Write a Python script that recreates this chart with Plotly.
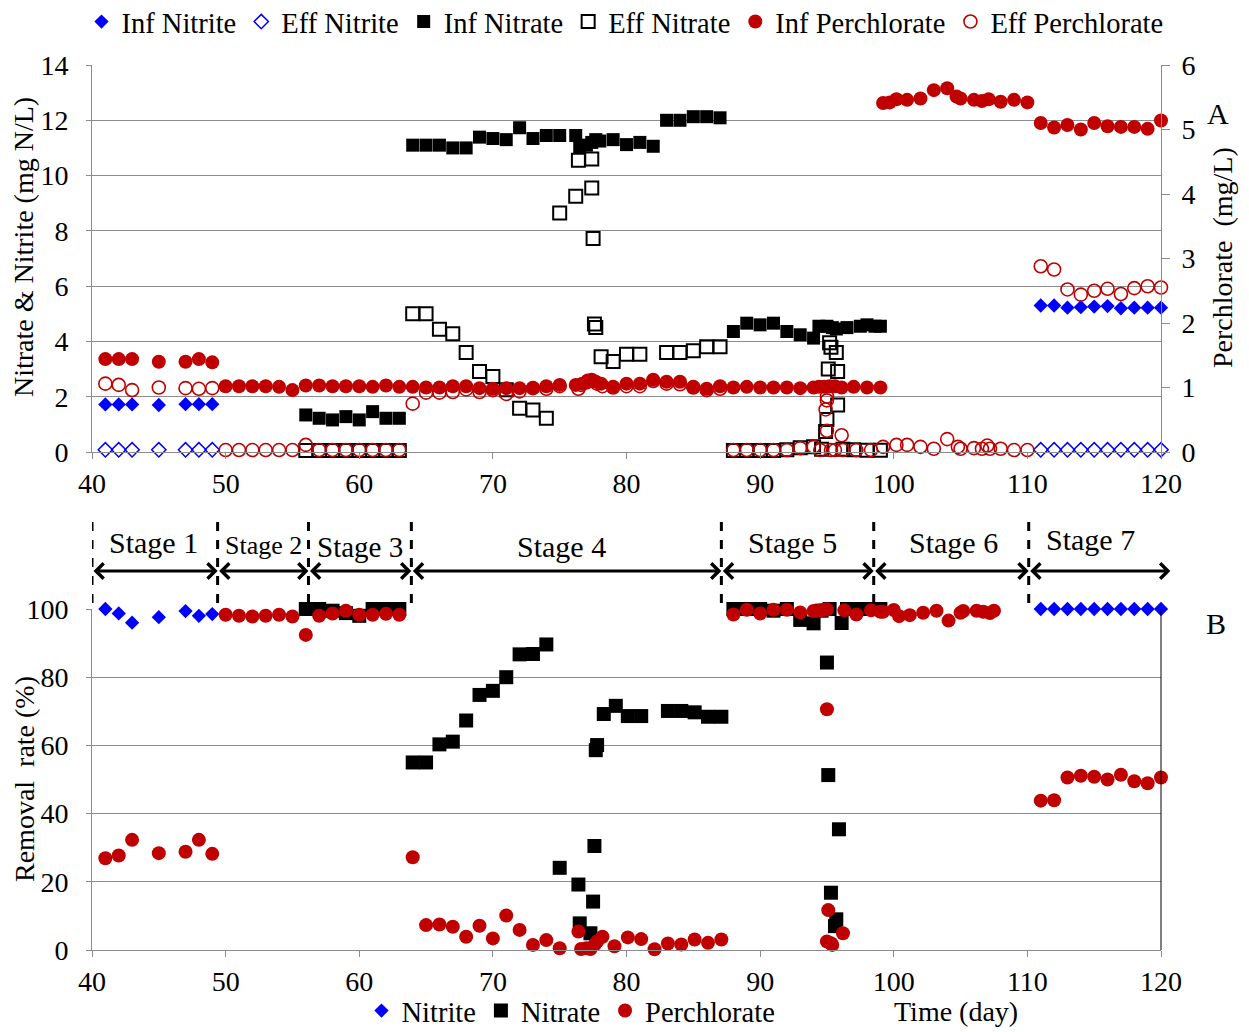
import plotly.graph_objects as go

# The page body adds an 8 px margin, so the figure is sized to fit and
# reference pixel positions are shifted by that offset.
OFF = 8
W, H = 1241, 1024
FONT = "Liberation Serif, Times New Roman, serif"
BLUE = "#0000FF"
RED = "#C00000"
BLACK = "#000000"
GRID = "#8C8C8C"

# ---------------- Panel A data (left axis: mg N/L) ----------------
inf_nitrite_day = [41, 42, 43, 45, 47, 48, 49, 111, 112, 113, 114, 115, 116, 117, 118, 119, 120]
inf_nitrite = [1.72, 1.72, 1.72, 1.70, 1.73, 1.73, 1.73, 5.30, 5.30, 5.22, 5.24, 5.26, 5.28, 5.20, 5.22, 5.22, 5.22]
eff_nitrite_day = [41, 42, 43, 45, 47, 48, 49, 111, 112, 113, 114, 115, 116, 117, 118, 119, 120]
eff_nitrite = [0.08, 0.08, 0.08, 0.08, 0.08, 0.08, 0.08, 0.08, 0.08, 0.08, 0.08, 0.08, 0.08, 0.08, 0.08, 0.08, 0.08]

inf_nitrate_day = [56, 57, 58, 59, 60, 61, 62, 63,
                   64, 65, 66, 67, 68, 69, 70, 71, 72, 73, 74, 75, 76.2, 76.5, 77.0, 77.4, 77.7,
                   78, 79, 80, 81, 82, 83, 84, 85, 86, 87,
                   88, 89, 90, 91, 92, 93, 94, 94.4, 95, 95.4, 95.7, 96.5, 97.5, 98, 98.6, 99]
inf_nitrate = [1.34, 1.22, 1.16, 1.28, 1.16, 1.46, 1.22, 1.22,
               11.10, 11.10, 11.10, 11.00, 11.00, 11.39, 11.34, 11.30, 11.73, 11.34, 11.45, 11.45, 11.45, 11.05, 11.10, 11.20, 11.30,
               11.25, 11.30, 11.12, 11.20, 11.06, 12.00, 12.00, 12.13, 12.13, 12.09,
               4.36, 4.66, 4.60, 4.66, 4.36, 4.24, 4.12, 4.55, 4.55, 4.50, 4.45, 4.50, 4.55, 4.60, 4.55, 4.55]

eff_nitrate_day = [56, 57, 58, 59, 60, 61, 62, 63,
                   64, 65, 66, 67, 68, 69, 70, 71, 72, 73, 74, 75,
                   76.2, 76.4, 77.4, 77.4, 77.5, 77.6, 77.7, 78.1,
                   79, 80, 81, 83, 84, 85, 86, 87,
                   88, 89, 90, 91, 92, 93, 94, 94.6, 94.9, 95.0, 95.1, 95.2, 95.3, 95.7, 95.8, 95.8, 96.2, 97, 98, 99]
eff_nitrate = [0.05, 0.05, 0.05, 0.05, 0.05, 0.05, 0.05, 0.05,
               5.00, 5.00, 4.44, 4.28, 3.60, 2.91, 2.73, 2.25, 1.58, 1.52, 1.22, 8.65,
               9.25, 10.55, 10.60, 9.55, 7.72, 4.63, 4.50, 3.45,
               3.27, 3.54, 3.54, 3.60, 3.60, 3.66, 3.81, 3.81,
               0.05, 0.05, 0.05, 0.05, 0.08, 0.15, 0.19, 0.10, 0.74, 1.18, 3.00, 3.95, 3.79, 3.60, 2.91, 1.70, 0.10, 0.08, 0.06, 0.06]

# ---------------- Panel A data (right axis: mg/L) ----------------
inf_perch_day = [41, 42, 43, 45, 47, 48, 49,
                 50, 51, 52, 53, 54, 55, 56, 57, 58, 59, 60, 61, 62, 63,
                 64, 65, 66, 67, 68, 69, 70, 71, 72, 73, 74, 75,
                 76.2, 76.7, 77.1, 77.4, 77.7, 78.1,
                 79, 80, 81, 82, 83, 84, 85, 86, 87,
                 88, 89, 90, 91, 92, 93, 94,
                 94.4, 94.8, 95.2, 95.6, 96.1, 97, 98, 99,
                 99.2, 99.7, 100.2, 101, 102, 103, 104, 104.7, 105, 106, 106.6, 107.1, 108, 109, 110,
                 111, 112, 113, 114, 115, 116, 117, 118, 119, 120]
inf_perch = [1.44, 1.44, 1.44, 1.40, 1.40, 1.44, 1.39,
             1.02, 1.02, 1.02, 1.02, 1.01, 0.96, 1.03, 1.03, 1.02, 1.02, 1.02, 1.01, 1.03, 1.01,
             1.01, 1.00, 1.00, 1.02, 1.02, 0.99, 0.98, 0.99, 0.99, 0.99, 1.02, 1.04,
             1.04, 1.06, 1.11, 1.12, 1.09, 1.06,
             1.01, 1.06, 1.06, 1.12, 1.09, 1.09, 1.01, 0.98, 1.02,
             1.00, 1.01, 1.00, 1.00, 1.00, 0.99, 1.00,
             1.01, 1.01, 1.02, 1.02, 1.00, 1.01, 1.00, 1.00,
             5.41, 5.42, 5.47, 5.46, 5.48, 5.61, 5.64, 5.51, 5.48, 5.46, 5.44, 5.47, 5.43, 5.46, 5.42,
             5.10, 5.03, 5.07, 5.00, 5.10, 5.05, 5.04, 5.04, 5.01, 5.14]

eff_perch_day = [41, 42, 43, 45, 47, 48, 49,
                 50, 51, 52, 53, 54, 55, 56, 57, 58, 59, 60, 61, 62, 63,
                 64, 65, 66, 67, 68, 69, 70, 71, 72, 73, 74, 75,
                 76.4, 76.6, 77.0, 77.3, 77.8, 78.2,
                 79, 80, 81, 82, 83, 84, 85, 86, 87,
                 88, 89, 90, 91, 92, 93, 94,
                 94.5, 94.9, 95.0, 95.0, 95.0, 95.3, 95.6, 96.1, 96.2, 97.2, 98.3,
                 99.2, 100.2, 101, 102, 103, 104, 104.8, 105, 106, 106.6, 107, 107.2, 108, 109, 110,
                 111, 112, 113, 114, 115, 116, 117, 118, 119, 120]
eff_perch = [1.06, 1.04, 0.96, 1.00, 0.99, 0.98, 0.99,
             0.03, 0.03, 0.03, 0.03, 0.03, 0.03, 0.11, 0.03, 0.03, 0.03, 0.03, 0.03, 0.03, 0.03,
             0.75, 0.92, 0.92, 0.93, 0.97, 0.93, 0.96, 0.90, 0.94, 0.99, 0.98, 1.02,
             0.98, 1.04, 1.08, 1.10, 1.06, 1.02,
             1.00, 1.02, 1.02, 1.10, 1.06, 1.05, 1.00, 0.96, 0.98,
             0.03, 0.03, 0.03, 0.03, 0.03, 0.06, 0.08,
             0.03, 0.66, 0.80, 0.86, 0.33, 0.03, 0.03, 0.26, 0.03, 0.03, 0.03,
             0.08, 0.11, 0.11, 0.08, 0.05, 0.20, 0.08, 0.05, 0.06, 0.05, 0.10, 0.05, 0.05, 0.03, 0.03,
             2.88, 2.83, 2.52, 2.44, 2.50, 2.53, 2.45, 2.54, 2.57, 2.55]

# ---------------- Panel B data (removal rate %) ----------------
rm_nitrite_day = [41, 42, 43, 45, 47, 48, 49, 111, 112, 113, 114, 115, 116, 117, 118, 119, 120]
rm_nitrite = [100, 98.7, 96.0, 97.6, 99.4, 98.0, 98.5, 100, 100, 100, 100, 100, 100, 100, 100, 100, 100]

rm_nitrate_day = [56, 57, 58, 59, 60, 61, 62, 63,
                  64, 65, 66, 67, 68, 69, 70, 71, 72, 73, 74, 75,
                  76.4, 76.5, 77.3, 77.5, 77.6, 77.7, 77.8, 78.3,
                  79.2, 80.1, 81.1, 83.1, 84.1, 85.1, 86.1, 87.1,
                  88, 89, 90, 91, 92, 93, 94, 94.6, 95.0, 95.1, 95.2, 95.3, 95.6, 95.7, 95.9, 96.1, 96.5, 97, 98, 99]
rm_nitrate = [100, 100, 99.5, 98.8, 98.0, 100, 100, 100,
              55.0, 55.0, 60.3, 61.1, 67.3, 74.8, 76.0, 80.0, 86.7, 86.8, 89.6, 24.1,
              19.2, 7.8, 4.9, 14.2, 30.5, 58.6, 60.1, 69.2,
              71.6, 68.6, 68.6, 70.1, 70.1, 69.7, 68.4, 68.4,
              100, 100, 100, 99.5, 100, 96.8, 95.8, 99.5, 84.3, 51.3, 100, 16.8, 7.0, 9.0, 35.4, 95.9, 100, 100, 100, 100]

rm_perch_day = [41, 42, 43, 45, 47, 48, 49,
                50, 51, 52, 53, 54, 55, 56, 57, 58, 59, 60, 61, 62, 63,
                64, 65, 66, 67, 68, 69, 70, 71, 72, 73, 74, 75,
                76.4, 76.6, 77.0, 77.3, 77.6, 77.8, 78.2,
                79.1, 80.1, 81.1, 82.1, 83.1, 84.1, 85.1, 86.1, 87.1,
                88, 89, 90, 91, 92, 93, 94, 94.5, 94.8, 95.0,
                95.0, 95.1, 95.3, 95.4, 95.0, 96.2,
                96.3, 97.2, 98.3, 99.0, 99.2, 100.0, 100.4, 101.2, 102.2, 103.2, 104.1, 105.0, 105.2, 106.2, 106.7, 107.2, 107.5,
                111, 112, 113, 114, 115, 116, 117, 118, 119, 120]
rm_perch = [26.9, 27.7, 32.3, 28.4, 28.8, 32.3, 28.2,
            98.3, 98.0, 97.8, 98.0, 98.3, 97.8, 92.4, 98.0, 98.7, 99.5, 98.3, 98.3, 98.6, 98.3,
            27.2, 7.3, 7.5, 6.8, 3.9, 7.1, 3.4, 10.1, 5.9, 1.5, 2.9, 0.5,
            5.4, 0.3, 0.5, 0.3, 1.5, 2.5, 3.9,
            1.1, 3.7, 3.2, 0.2, 1.9, 1.6, 3.1, 2.1, 3.1,
            98.4, 99.8, 98.7, 99.8, 99.8, 99.0, 99.4, 99.6, 99.8, 99.9,
            70.6, 11.7, 2.0, 1.5, 2.5, 4.9,
            99.6, 98.4, 99.6, 99.2, 99.2, 99.7, 97.9, 98.2, 98.9, 99.5, 96.6, 98.9, 99.4, 99.5, 99.2, 98.8, 99.5,
            43.8, 43.9, 50.6, 51.1, 50.8, 50.0, 51.4, 49.5, 48.9, 50.6]

# Stage boundaries (day) and labels
stage_bounds = [40.0, 49.4, 56.2, 63.9, 87.1, 98.5, 110.1, 120.7]
stage_names = ["Stage 1", "Stage 2", "Stage 3", "Stage 4", "Stage 5", "Stage 6", "Stage 7"]


def fx(px):
    return (px - OFF) / W


def fy(py):
    return 1 - (py - OFF) / H


X0, X1 = fx(92), fx(1161)
TOP_DOM = [fy(452), fy(65)]
BOT_DOM = [fy(950), fy(609)]

fig = go.Figure()

# Panel A traces
fig.add_trace(go.Scatter(x=inf_nitrite_day, y=inf_nitrite, mode="markers", name="Inf Nitrite",
                         marker=dict(symbol="diamond", size=11, color=BLUE), xaxis="x", yaxis="y",
                         cliponaxis=False, legend="legend"))
fig.add_trace(go.Scatter(x=eff_nitrite_day, y=eff_nitrite, mode="markers", name="Eff Nitrite",
                         marker=dict(symbol="diamond-open", size=11, color=BLUE, line=dict(width=1.5, color=BLUE)),
                         xaxis="x", yaxis="y", cliponaxis=False, legend="legend"))
fig.add_trace(go.Scatter(x=inf_nitrate_day, y=inf_nitrate, mode="markers", name="Inf Nitrate",
                         marker=dict(symbol="square", size=13, color=BLACK), xaxis="x", yaxis="y",
                         cliponaxis=False, legend="legend"))
fig.add_trace(go.Scatter(x=eff_nitrate_day, y=eff_nitrate, mode="markers", name="Eff Nitrate",
                         marker=dict(symbol="square-open", size=13, color=BLACK, line=dict(width=2, color=BLACK)),
                         xaxis="x", yaxis="y", cliponaxis=False, legend="legend"))
fig.add_trace(go.Scatter(x=inf_perch_day, y=inf_perch, mode="markers", name="Inf Perchlorate",
                         marker=dict(symbol="circle", size=14, color=RED), xaxis="x", yaxis="y2",
                         cliponaxis=False, legend="legend"))
fig.add_trace(go.Scatter(x=eff_perch_day, y=eff_perch, mode="markers", name="Eff Perchlorate",
                         marker=dict(symbol="circle-open", size=13, color=RED, line=dict(width=1.6, color=RED)),
                         xaxis="x", yaxis="y2", cliponaxis=False, legend="legend"))

# Panel B traces
fig.add_trace(go.Scatter(x=rm_nitrite_day, y=rm_nitrite, mode="markers", name="Nitrite",
                         marker=dict(symbol="diamond", size=11, color=BLUE), xaxis="x2", yaxis="y3",
                         cliponaxis=False, legend="legend2"))
fig.add_trace(go.Scatter(x=rm_nitrate_day, y=rm_nitrate, mode="markers", name="Nitrate",
                         marker=dict(symbol="square", size=14, color=BLACK), xaxis="x2", yaxis="y3",
                         cliponaxis=False, legend="legend2"))
fig.add_trace(go.Scatter(x=rm_perch_day, y=rm_perch, mode="markers", name="Perchlorate",
                         marker=dict(symbol="circle", size=14, color=RED), xaxis="x2", yaxis="y3",
                         cliponaxis=False, legend="legend2"))

axis_common = dict(showline=True, linecolor=GRID, linewidth=1, ticks="outside", tickcolor=GRID,
                   zeroline=False, automargin=False, tickfont=dict(family=FONT, size=28, color="black"))

fig.update_layout(
    width=W, height=H,
    margin=dict(l=0, r=0, t=0, b=0, pad=0, autoexpand=False),
    paper_bgcolor="white", plot_bgcolor="white",
    font=dict(family=FONT, size=28, color="black"),
    xaxis=dict(domain=[X0, X1], range=[40, 120], tick0=40, dtick=10, anchor="y", showgrid=False,
               ticklen=6, **axis_common),
    yaxis=dict(domain=TOP_DOM, range=[0, 14], dtick=2, anchor="x", showgrid=True, gridcolor=GRID,
               gridwidth=1, ticklen=5, ticklabelstandoff=12, **axis_common),
    yaxis2=dict(range=[0, 6], dtick=1, overlaying="y", side="right", anchor="x", showgrid=False,
                ticklen=8, ticklabelstandoff=6, **axis_common),
    xaxis2=dict(domain=[X0, X1], range=[40, 120], tick0=40, dtick=10, anchor="y3", showgrid=False,
                ticklen=6, **axis_common),
    yaxis3=dict(domain=BOT_DOM, range=[0, 100], dtick=20, anchor="x2", showgrid=True, gridcolor=GRID,
                gridwidth=1, ticklen=5, ticklabelstandoff=12, **axis_common),
    legend=dict(orientation="h", x=fx(625), xanchor="center", y=fy(22), yanchor="middle",
                font=dict(family=FONT, size=28.5, color="black"), bgcolor="rgba(0,0,0,0)",
                itemwidth=30, tracegroupgap=0),
    legend2=dict(orientation="h", x=fx(571), xanchor="center", y=fy(1011), yanchor="middle",
                 font=dict(family=FONT, size=28.5, color="black"), bgcolor="rgba(0,0,0,0)",
                 itemwidth=30, tracegroupgap=0),
    showlegend=True,
)

shapes = []
# right border of the bottom panel
shapes.append(dict(type="line", xref="paper", yref="paper", x0=X1, x1=X1, y0=BOT_DOM[0], y1=BOT_DOM[1],
                   line=dict(color=BLACK, width=1)))
# dashed stage separators
for b in stage_bounds[:-1]:
    shapes.append(dict(type="line", xref="x2", yref="paper", x0=b, x1=b, y0=fy(603), y1=fy(518),
                       line=dict(color=BLACK, width=3, dash="dash")))
fig.update_layout(shapes=shapes)

annotations = []
# double-headed arrows
for i in range(len(stage_names)):
    annotations.append(dict(x=stage_bounds[i + 1], y=fy(571), xref="x2", yref="paper",
                            ax=stage_bounds[i], ay=0, axref="x2", ayref="pixel",
                            text="", showarrow=True, arrowhead=4, startarrowhead=4,
                            arrowside="end+start", arrowwidth=3, arrowsize=1, startarrowsize=1,
                            arrowcolor=BLACK, standoff=0, startstandoff=0))
# stage labels
label_pos = [(153, 542, 30), (263, 545, 26), (360, 547, 29), (561, 546, 30),
             (792, 542, 30), (953, 542, 30), (1090, 539, 30)]
for name, (px, py, fs) in zip(stage_names, label_pos):
    annotations.append(dict(x=fx(px), y=fy(py), xref="paper", yref="paper", text=name, showarrow=False,
                            xanchor="center", yanchor="middle",
                            font=dict(family=FONT, size=fs, color="black")))
# axis titles and panel letters
annotations += [
    dict(x=fx(23), y=fy(247), xref="paper", yref="paper", text="Nitrate & Nitrite (mg N/L)",
         textangle=-90, showarrow=False, xanchor="center", yanchor="middle", borderpad=0,
         font=dict(family=FONT, size=28, color="black")),
    dict(x=fx(1222), y=fy(258), xref="paper", yref="paper", text="Perchlorate  (mg/L)",
         textangle=-90, showarrow=False, xanchor="center", yanchor="middle", borderpad=0,
         font=dict(family=FONT, size=28, color="black")),
    dict(x=fx(24), y=fy(779), xref="paper", yref="paper", text="Removal  rate (%)",
         textangle=-90, showarrow=False, xanchor="center", yanchor="middle", borderpad=0,
         font=dict(family=FONT, size=28, color="black")),
    dict(x=fx(1218), y=fy(113), xref="paper", yref="paper", text="A", showarrow=False,
         xanchor="center", yanchor="middle", font=dict(family=FONT, size=30, color="black")),
    dict(x=fx(1216), y=fy(623), xref="paper", yref="paper", text="B", showarrow=False,
         xanchor="center", yanchor="middle", font=dict(family=FONT, size=30, color="black")),
    dict(x=fx(956), y=fy(1011), xref="paper", yref="paper", text="Time (day)", showarrow=False,
         xanchor="center", yanchor="middle", font=dict(family=FONT, size=28, color="black")),
]
fig.update_layout(annotations=annotations)

fig.write_html("out.html")
